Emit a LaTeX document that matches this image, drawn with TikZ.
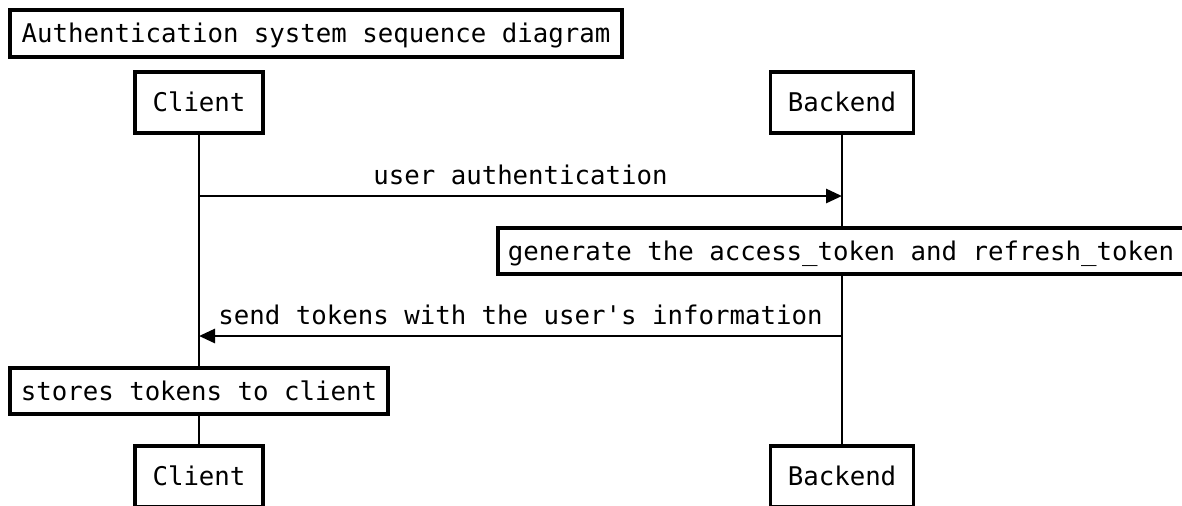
\documentclass[tikz,border=0pt]{standalone}
\usepackage{fontspec}
\newfontfamily\seqmono{DejaVu Sans Mono}
\usetikzlibrary{arrows.meta}

\tikzset{
  seqtext/.style={font=\seqmono\fontsize{14.65pt}{17pt}\selectfont, text=black},
  box/.style={seqtext, draw=black, line width=1.9pt, fill=white, inner sep=0pt,
    text height=10.7pt, text depth=0pt},
  actor/.style={box, minimum height=1.22cm},
  note/.style={box, minimum height=0.92cm},
  lifeline/.style={draw=black, line width=1.6pt},
  msg/.style={draw=black, line width=1.6pt, -{Triangle[length=0.32cm, width=0.28cm]}},
  msglabel/.style={seqtext, anchor=base, inner sep=0pt}
}

\begin{document}
\begin{tikzpicture}[x=0.02cm, y=-0.02cm]
  \useasboundingbox (0,0) rectangle (1182,505);

  % title
  \node[box, minimum width=12.24cm, minimum height=0.94cm] (title) at (316,33.5)
    {Authentication system sequence diagram};

  % participants, top and bottom
  \node[actor, minimum width=2.56cm] (clientTop) at (199,102.5) {Client};
  \node[actor, minimum width=2.86cm] (backendTop) at (842,102.5) {Backend};
  \node[actor, minimum width=2.56cm] (clientBot) at (199,476.5) {Client};
  \node[actor, minimum width=2.86cm] (backendBot) at (842,476.5) {Backend};

  % lifelines
  \draw[lifeline] (clientTop.south) -- (clientBot.north);
  \draw[lifeline] (backendTop.south) -- (backendBot.north);

  % message end points on the lifelines
  \coordinate (cAuth) at (199,196);
  \coordinate (bAuth) at (842,196);
  \coordinate (bSend) at (842,336);
  \coordinate (cSend) at (199,336);

  % messages
  \draw[msg] (cAuth) -- (bAuth);
  \node[msglabel] (lAuth) at (520.5,184) {user authentication};

  \node[note, minimum width=13.72cm] (gen) at (841,251)
    {generate the access\_token and refresh\_token};

  \draw[msg] (bSend) -- (cSend);
  \node[msglabel] (lSend) at (520.5,324) {send tokens with the user's information};

  \node[note, minimum width=7.56cm] (store) at (199,391) {stores tokens to client};
\end{tikzpicture}
\end{document}
